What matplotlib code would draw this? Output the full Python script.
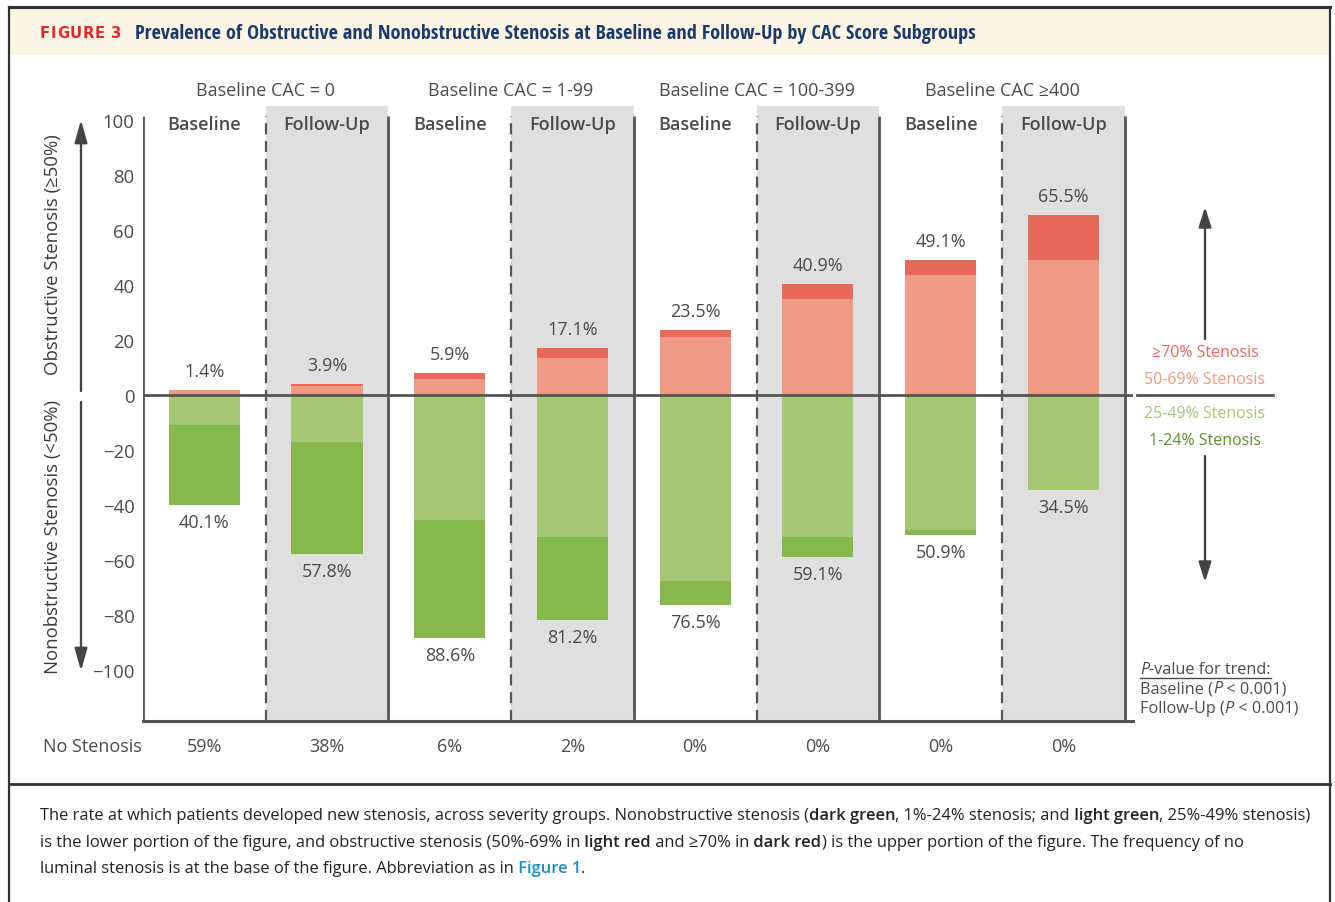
import matplotlib
matplotlib.use("Agg")
import matplotlib.pyplot as plt
import numpy as np
from matplotlib import font_manager as fm
from matplotlib.patches import Rectangle, FancyArrowPatch
from matplotlib.lines import Line2D

# ---------------- data ----------------
group_titles = ["Baseline CAC = 0", "Baseline CAC = 1-99", "Baseline CAC = 100-399", "Baseline CAC \u2265400"]
phases = ["Baseline", "Follow-Up", "Baseline", "Follow-Up", "Baseline", "Follow-Up", "Baseline", "Follow-Up"]
light_red = [2.0, 3.2, 5.7, 13.3, 21.1, 34.9, 43.6, 49.1]      # 50-69% stenosis
dark_red = [0.0, 1.0, 2.2, 3.7, 2.5, 5.5, 5.5, 16.4]           # >=70% stenosis
light_green = [10.7, 17.2, 45.6, 51.7, 67.6, 51.6, 49.1, 34.5]  # 25-49% stenosis
dark_green = [29.4, 40.6, 42.9, 29.9, 8.6, 7.3, 1.7, 0.0]      # 1-24% stenosis
obstructive_labels = ["1.4%", "3.9%", "5.9%", "17.1%", "23.5%", "40.9%", "49.1%", "65.5%"]
nonobstructive_labels = ["40.1%", "57.8%", "88.6%", "81.2%", "76.5%", "59.1%", "50.9%", "34.5%"]
no_stenosis = ["59%", "38%", "6%", "2%", "0%", "0%", "0%", "0%"]
yticks = [100, 80, 60, 40, 20, 0, -20, -40, -60, -80, -100]
legend_labels = ["\u226570% Stenosis", "50-69% Stenosis", "25-49% Stenosis", "1-24% Stenosis"]

# ---------------- style ----------------
avail = {f.name for f in fm.fontManager.ttflist}
BASE = "Open Sans" if "Open Sans" in avail else "DejaVu Sans"
plt.rcParams["font.family"] = [BASE, "DejaVu Sans"]

# look for a condensed bold face for the title
title_fp = None
cands = []
for f in fm.fontManager.ttflist:
    st = str(f.stretch)
    if st in ("condensed", "semi-condensed", "extra-condensed") or "Narrow" in f.name or "Condensed" in f.name:
        try:
            w = int(f.weight)
        except Exception:
            w = 700 if f.weight == "bold" else 400
        if w >= 600 and f.style == "normal":
            cands.append(f)
pref = ["Noto Sans", "Open Sans", "Roboto", "Liberation Sans Narrow", "DejaVu Sans"]
cands.sort(key=lambda f: next((i for i, p in enumerate(pref) if f.name.startswith(p)), 99))
if cands:
    title_fp = fm.FontProperties(fname=cands[0].fname)
else:
    title_fp = fm.FontProperties(family=BASE, weight="bold")

C_TXT = "#4a4a4a"
C_LINE = "#555555"
C_DRED = "#e8695a"
C_LRED = "#ef9a85"
C_LGRN = "#a4c675"
C_DGRN = "#86b84e"
C_GRAY = "#e0dfe0"

W, H = 1335, 903
fig = plt.figure(figsize=(W / 100, H / 100), dpi=100)
fig.patch.set_facecolor("white")


def fx(px):
    return px / W


def fy(py):
    return 1 - py / H


# frame and header
fig.patches.append(Rectangle((fx(9), fy(56)), fx(1321), 47 / H, transform=fig.transFigure,
                             facecolor="#fdf5e4", edgecolor="none", zorder=0))
for (x0, y0, x1, y1, lw) in [(9, 8, 1330, 8, 2.2), (9, 8, 9, 903, 1.6), (1330, 8, 1330, 903, 1.6),
                             (9, 785, 1330, 785, 2.0)]:
    fig.lines.append(Line2D([fx(x0), fx(x1)], [fy(y0), fy(y1)], transform=fig.transFigure,
                            color="#333333", lw=lw))

renderer = fig.canvas.get_renderer()


def width_of(t):
    return t.get_window_extent(renderer=renderer).width


def runs(x_px, y_px, parts, size, color="#222222"):
    x = x_px
    for txt, style in parts:
        kw = dict(fontsize=size, va="center", ha="left", color=color)
        kw.update(style)
        t = fig.text(fx(x), fy(y_px), txt, **kw)
        x += width_of(t)
    return x


def measure(parts, size0):
    x_end = 0
    for txt, style in parts:
        kw = dict(fontsize=size0)
        kw.update({k: v for k, v in style.items() if k != "color"})
        t = fig.text(0, 0, txt, **kw)
        x_end += width_of(t)
        t.remove()
    return x_end


# "FIGURE 3" with letter spacing
fig_lbl = "FIGURE 3"
fsz = 10.7
ws = []
for ch in fig_lbl:
    t = fig.text(0, 0, ch, fontsize=fsz, fontweight="bold", family=["DejaVu Sans"])
    ws.append(width_of(t) if ch != " " else 0)
    t.remove()
space_w = 5.0
raw = sum(w if w else space_w for w in ws)
track = (121 - 40 - raw) / (len(fig_lbl) - 1)
xx = 40
for ch, w in zip(fig_lbl, ws):
    if ch != " ":
        fig.text(fx(xx), fy(34), ch, fontsize=fsz, fontweight="bold", color="#e52a2f",
                 family=["DejaVu Sans"], va="center", ha="left")
    xx += (w if w else space_w) + track

title = "Prevalence of Obstructive and Nonobstructive Stenosis at Baseline and Follow-Up by CAC Score Subgroups"
tt = fig.text(fx(135), fy(34), title, fontproperties=title_fp, fontsize=12.5, color="#1b3a6b",
              va="center", ha="left")
tt.set_fontsize(12.5 * 843 / width_of(tt))

# ---------------- axes ----------------
ax = fig.add_axes([fx(143), (H - 722) / H, (1133 - 143) / W, (722 - 107) / H])
x = np.arange(len(phases))
ax.set_xlim(-0.5, 7.568)
ax.set_ylim(-118.5, 105.1)

for i in range(1, 8, 2):
    ax.axvspan(i - 0.5, i + 0.5, color=C_GRAY, zorder=0, lw=0)

lr = np.array(light_red)
dr = np.array(dark_red)
lg = np.array(light_green)
dg = np.array(dark_green)
bw = 0.58
ax.bar(x, lr, width=bw, color=C_LRED, zorder=2)
ax.bar(x, dr, width=bw, bottom=lr, color=C_DRED, zorder=2)
ax.bar(x, -lg, width=bw, color=C_LGRN, zorder=2)
ax.bar(x, -dg, width=bw, bottom=-lg, color=C_DGRN, zorder=2)

ytop = 101.5
ax.vlines([-0.5, 1.5, 3.5, 5.5, 7.5], -118.5, ytop, color=C_LINE, lw=2, zorder=3)
ax.vlines([0.5, 2.5, 4.5, 6.5], -118.5, ytop, color=C_LINE, lw=1.6, zorder=3,
          linestyles=(0, (5, 3)))
ax.axhline(0, color=C_LINE, lw=2, zorder=4)

for s in ["top", "right", "left"]:
    ax.spines[s].set_visible(False)
ax.spines["bottom"].set_color(C_LINE)
ax.spines["bottom"].set_linewidth(2.2)
ax.set_xticks([])
ax.set_yticks(yticks)
ax.set_yticklabels([str(v).replace("-", "\u2212") for v in yticks])
ax.tick_params(axis="y", length=0, pad=6, labelsize=13.3, labelcolor=C_TXT)
ax.patch.set_alpha(0)

for i in range(8):
    ax.annotate(obstructive_labels[i], (x[i], lr[i] + dr[i]), xytext=(0, 19),
                textcoords="offset pixels", ha="center", va="center", fontsize=13, color=C_TXT)
    ax.annotate(nonobstructive_labels[i], (x[i], -(lg[i] + dg[i])), xytext=(0, -17),
                textcoords="offset pixels", ha="center", va="center", fontsize=13, color=C_TXT)

tr = ax.get_xaxis_transform()
for i, p in enumerate(phases):
    ax.text(x[i], 0.971, p, transform=tr, ha="center", va="center", fontsize=13,
            fontweight="semibold", color=C_TXT)
    ax.text(x[i], -0.041, no_stenosis[i], transform=tr, ha="center", va="center",
            fontsize=13, color=C_TXT)
for g, t in enumerate(group_titles):
    ax.text(2 * g + 0.5, 1.026, t, transform=tr, ha="center", va="center", fontsize=13,
            color=C_TXT)

fig.text(fx(43), fy(747), "No Stenosis", fontsize=13, color=C_TXT, va="center", ha="left")

# y-axis labels and arrows
fig.text(fx(53), fy(255), "Obstructive Stenosis (\u226550%)", rotation=90, fontsize=13.4,
         color="#3a3a3a", va="center", ha="center")
fig.text(fx(53), fy(537), "Nonobstructive Stenosis (<50%)", rotation=90, fontsize=13.4,
         color="#3a3a3a", va="center", ha="center")


def farrow(x0, y0, x1, y1, hl=0.85):
    a = FancyArrowPatch((fx(x0), fy(y0)), (fx(x1), fy(y1)), transform=fig.transFigure,
                        arrowstyle="-|>,head_length=%g,head_width=0.24" % hl, mutation_scale=16,
                        color="#444444", lw=1.7, shrinkA=0, shrinkB=0)
    fig.patches.append(a)


farrow(81, 392, 81, 121)
farrow(81, 403, 81, 672)
farrow(1205, 340, 1205, 208, 0.75)
farrow(1205, 457, 1205, 583, 0.75)

# legend
leg_colors = [C_DRED, C_LRED, C_LGRN, "#5e8f2e"]
leg_y = [353, 380, 414, 441]
for lab, c, yy in zip(legend_labels, leg_colors, leg_y):
    fig.text(fx(1205), fy(yy), lab, fontsize=11.5, color=c, ha="center", va="center")
fig.lines.append(Line2D([fx(1137), fx(1273)], [fy(396), fy(396)], transform=fig.transFigure,
                        color=C_LINE, lw=2))

# p-values
I = {"style": "italic"}
pv = 11.7
xe = runs(1140, 670, [("P", I), ("-value for trend:", {})], pv, color=C_TXT)
fig.lines.append(Line2D([fx(1140), fx(xe)], [fy(679), fy(679)], transform=fig.transFigure,
                        color=C_TXT, lw=1))
runs(1140, 689, [("Baseline (", {}), ("P", I), (" < 0.001)", {})], pv, color=C_TXT)
runs(1140, 709, [("Follow-Up (", {}), ("P", I), (" < 0.001)", {})], pv, color=C_TXT)

# caption
B = {"fontweight": "semibold"}
line1 = [("The rate at which patients developed new stenosis, across severity groups. Nonobstructive stenosis (", {}),
         ("dark green", B), (", 1%-24% stenosis; and", {}), (" light green", B),
         (", 25%-49% stenosis)", {})]
line2 = [("is the lower portion of the figure, and obstructive stenosis (50%-69% in", {}),
         (" light red", B), (" and \u226570% in", {}), (" dark red", B),
         (") is the upper portion of the figure. The frequency of no", {})]
line3 = [("luminal stenosis is at the base of the figure. Abbreviation as in", {}),
         (" Figure 1", {"fontweight": "semibold", "color": "#1f8cc8"}), (".", {})]
s1 = 11 * 1249 / measure(line1, 11)
s2 = 11 * 1236 / measure(line2, 11)
cs = 0.5 * (s1 + s2)
runs(40, 816, line1, cs)
runs(40, 843, line2, cs)
runs(40, 869, line3, cs)

fig.savefig("out.png", dpi=100)
